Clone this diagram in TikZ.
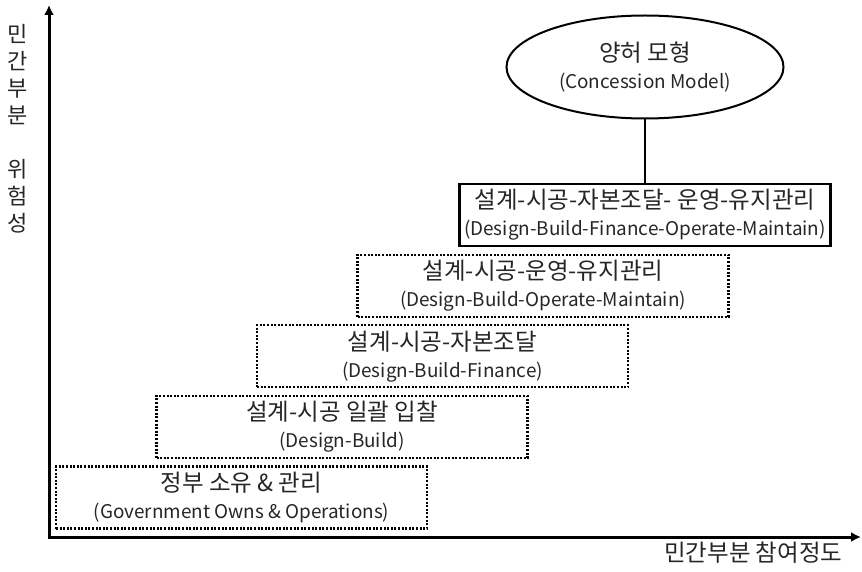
\documentclass[tikz,border=0pt]{standalone}
\usepackage{fontspec}
\setmainfont{Noto Sans CJK KR}
\usetikzlibrary{arrows.meta, shapes.geometric}

\newcommand{\kortext}{\fontsize{23.5}{27}\selectfont}
\newcommand{\engtext}{\fontsize{18.9}{27}\selectfont}
\newcommand{\modeltext}[2]{{\kortext #1}\\{\engtext #2}}

\begin{document}
\begin{tikzpicture}[
x=1pt, y=-1pt,
text=black!85,
modelbox/.style={
rectangle,
minimum width=371,
minimum height=62,
inner sep=0 pt,
align=center,
font=\engtext,
},
dottedbox/.style={
modelbox,
draw,
line width=2.2pt,
dash pattern=on 2pt off 1.6pt,
},
solidbox/.style={
modelbox,
draw,
line width=2.5pt,
},
axis/.style={
line width=3pt,
{Latex[length=10pt, width=10pt]}-{Latex[length=10pt, width=10pt]},
}
]
\useasboundingbox (0,0) rectangle (862,572);

% axes
\coordinate (O) at (49,537);
\coordinate (ytop) at (49,5);
\coordinate (xend) at (861,537);
\draw [axis] (ytop) -- (O) -- (xend);

\node [align=center, font=\fontsize{22}{27}\selectfont] at (18,129) (ylabel)
{민\\간\\부\\분\\~\\위\\험\\성};
\node [anchor=east, font=\kortext] at (846,553) (xlabel)
{민간부분 참여정도};

% delivery models
\node [dottedbox] at (241.5,497.5) (gov)
{\modeltext{정부 소유 \& 관리}{(Government Owns \& Operations)}};
\node [dottedbox] at (342,426.9) (db)
{\modeltext{설계-시공 일괄 입찰}{(Design-Build)}};
\node [dottedbox] at (442.5,356.3) (dbf)
{\modeltext{설계-시공-자본조달}{(Design-Build-Finance)}};
\node [dottedbox] at (543,285.7) (dbom)
{\modeltext{설계-시공-운영-유지관리}{(Design-Build-Operate-Maintain)}};
\node [solidbox] at (645,215) (dbfom)
{\modeltext{설계-시공-자본조달- 운영-유지관리}{(Design-Build-Finance-Operate-Maintain)}};

% concession model
\node [ellipse, draw, line width=2pt, minimum width=277, minimum height=103,
inner sep=0 pt, align=center, font=\engtext] at (645,67) (concession)
{\modeltext{양허 모형}{(Concession Model)}};

\draw [line width=2pt] (concession) -- (dbfom);

\end{tikzpicture}
\end{document}
